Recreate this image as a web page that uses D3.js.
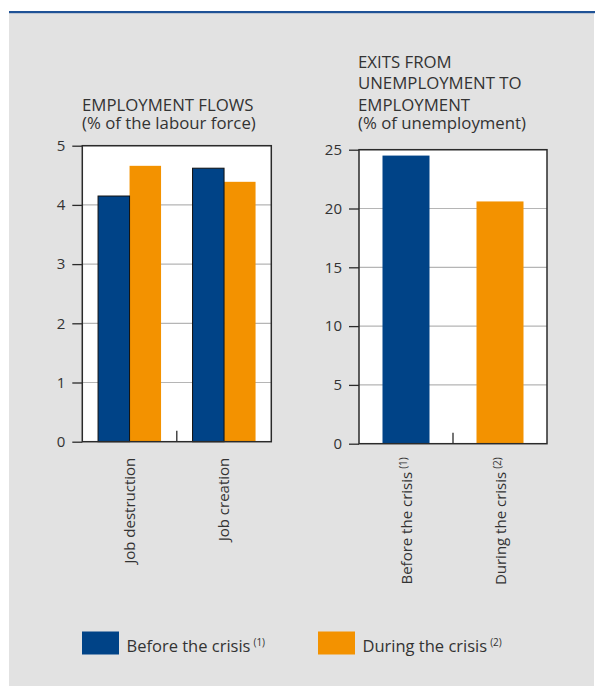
<!DOCTYPE html>
<html>
<head>
<meta charset="utf-8">
<script src="https://cdn.jsdelivr.net/npm/d3@7"></script>
<style>
  html, body { margin: 0; padding: 0; background: #ffffff; }
  svg { display: block; font-family: "Open Sans", "Noto Sans", sans-serif; }
</style>
</head>
<body>
<svg id="chart" width="595" height="686"></svg>
<script>
// Employment flows (% of the labour force)
const flowCategories = ["Job destruction", "Job creation"];
const flowBefore = [4.15, 4.62];
const flowDuring = [4.66, 4.39];
const flowTicks = [0, 1, 2, 3, 4, 5];
const flowTitle = ["EMPLOYMENT FLOWS"];
const flowSubtitle = "(% of the labour force)";

// Exits from unemployment to employment (% of unemployment)
const exitCategories = ["Before the crisis", "During the crisis"];
const exitNotes = ["(1)", "(2)"];
const exitValues = [24.5, 20.6];
const exitTicks = [0, 5, 10, 15, 20, 25];
const exitTitle = ["EXITS FROM", "UNEMPLOYMENT TO", "EMPLOYMENT"];
const exitSubtitle = "(% of unemployment)";

// Legend
const seriesNames = ["Before the crisis", "During the crisis"];
const seriesNotes = ["(1)", "(2)"];

const BLUE = "#004387";
const ORANGE = "#f39200";
const TEXT = "#333333";
const GRID = "#b5b5b5";
const FRAME = "#2b2b2b";

const svg = d3.select("#chart");

// Background panel with the blue rule along the top
svg.append("rect").attr("x", 9).attr("y", 13).attr("width", 585).attr("height", 673).attr("fill", "#e2e2e2");
svg.append("rect").attr("x", 9).attr("y", 11).attr("width", 586).attr("height", 2.2).attr("fill", "#1f5296");

function drawTitle(x, lines, subtitle, lastBaseline) {
  const g = svg.append("g").attr("fill", TEXT).style("font-size", "16.8px");
  const n = lines.length;
  lines.forEach((t, i) => {
    g.append("text").attr("x", x).attr("y", lastBaseline - 18 - (n - 1 - i) * 21.5).text(t);
  });
  g.append("text").attr("x", x).attr("y", lastBaseline).text(subtitle);
}

function drawFrame(g, x, y, yTicks) {
  const [x0, x1] = x.range();
  const [y0, y1] = y.range();
  // gridlines
  g.append("g").selectAll("line").data(yTicks.filter(d => d > 0)).join("line")
    .attr("x1", x0).attr("x2", x1)
    .attr("y1", d => y(d)).attr("y2", d => y(d))
    .attr("stroke", GRID).attr("stroke-width", 1.2);
}

function drawAxes(g, x, y, yTicks, midX) {
  const [x0, x1] = x.range();
  const [y0, y1] = y.range();
  // centre divider tick at the category boundary
  g.append("line").attr("x1", midX).attr("x2", midX).attr("y1", y0).attr("y2", y0 - 11)
    .attr("stroke", FRAME).attr("stroke-width", 1.3);
  // frame
  g.append("rect").attr("x", x0).attr("y", y1).attr("width", x1 - x0).attr("height", y0 - y1)
    .attr("fill", "none").attr("stroke", FRAME).attr("stroke-width", 1.5);
  // y axis ticks and labels
  const axis = d3.axisLeft(y).tickValues(yTicks).tickSize(10).tickPadding(7).tickFormat(d3.format("d"));
  const ag = g.append("g").attr("transform", `translate(${x0},0)`).call(axis);
  ag.select(".domain").remove();
  ag.selectAll(".tick line").attr("stroke", FRAME).attr("stroke-width", 1.3);
  ag.selectAll(".tick text").attr("fill", TEXT).style("font-size", "15px")
    .style("font-family", "\"Open Sans\", sans-serif");
}

// ---------- Left chart: employment flows ----------
{
  const g = svg.append("g");
  const x = d3.scaleBand().domain(flowCategories).range([82.3, 271.3]).paddingInner(1 / 3).paddingOuter(1 / 6);
  const y = d3.scaleLinear().domain([0, 5]).range([441.7, 145.7]);
  const xs = d3.scaleBand().domain(["before", "during"]).range([0, x.bandwidth()]);

  g.append("rect").attr("x", 82.3).attr("y", 145.7).attr("width", 189).attr("height", 296).attr("fill", "#ffffff");
  drawFrame(g, x, y, flowTicks);

  const rows = flowCategories.map((c, i) => ({ c, before: flowBefore[i], during: flowDuring[i] }));
  g.append("g").selectAll("rect").data(rows).join("rect")
    .attr("x", d => x(d.c) + xs("during")).attr("width", xs.bandwidth())
    .attr("y", d => y(d.during)).attr("height", d => y(0) - y(d.during))
    .attr("fill", ORANGE);
  g.append("g").selectAll("rect").data(rows).join("rect")
    .attr("x", d => x(d.c) + xs("before")).attr("width", xs.bandwidth())
    .attr("y", d => y(d.before)).attr("height", d => y(0) - y(d.before))
    .attr("fill", BLUE).attr("stroke", "#111").attr("stroke-width", 1);

  drawAxes(g, x, y, flowTicks, x(flowCategories[1]) - x.step() * x.paddingInner() / 2);

  g.append("g").selectAll("text").data(flowCategories).join("text")
    .attr("transform", d => `translate(${x(d) + x.bandwidth() / 2},${y(0) + 16}) rotate(-90)`)
    .attr("dy", "0.36em").attr("text-anchor", "end").attr("fill", TEXT).style("font-size", "15px")
    .text(d => d);

  drawTitle(82, flowTitle, flowSubtitle, 128.5);
}

// ---------- Right chart: exits from unemployment ----------
{
  const g = svg.append("g");
  const x = d3.scaleBand().domain(exitCategories).range([359, 547]).paddingInner(0.5).paddingOuter(0.25);
  const y = d3.scaleLinear().domain([0, 25]).range([443.7, 149.7]);

  g.append("rect").attr("x", 359).attr("y", 149.7).attr("width", 188).attr("height", 294).attr("fill", "#ffffff");
  drawFrame(g, x, y, exitTicks);

  g.append("g").selectAll("rect").data(exitCategories).join("rect")
    .attr("x", d => x(d)).attr("width", x.bandwidth())
    .attr("y", (d, i) => y(exitValues[i])).attr("height", (d, i) => y(0) - y(exitValues[i]))
    .attr("fill", (d, i) => i === 0 ? BLUE : ORANGE);

  drawAxes(g, x, y, exitTicks, x(exitCategories[1]) - x.step() * x.paddingInner() / 2);

  const lbl = g.append("g").selectAll("text").data(exitCategories).join("text")
    .attr("transform", d => `translate(${x(d) + x.bandwidth() / 2 + 1},${y(0) + 13.5}) rotate(-90)`)
    .attr("dy", "0.36em").attr("text-anchor", "end").attr("fill", TEXT).style("font-size", "15px");
  lbl.append("tspan").text(d => d);
  lbl.append("tspan").attr("dx", 3).attr("dy", "-0.55em").style("font-size", "10px").text((d, i) => exitNotes[i]);

  drawTitle(358, exitTitle, exitSubtitle, 128.5);
}

// ---------- Legend ----------
{
  const g = svg.append("g");
  const items = seriesNames.map((name, i) => ({ name, note: seriesNotes[i], color: i === 0 ? BLUE : ORANGE }));
  const lx = d3.scalePoint().domain(seriesNames).range([82, 318]);
  const item = g.selectAll("g").data(items).join("g")
    .attr("transform", d => `translate(${lx(d.name)},631.5)`);
  item.append("rect").attr("width", 37).attr("height", 23).attr("fill", d => d.color);
  const t = item.append("text").attr("x", 44.5).attr("y", 20).attr("fill", TEXT).style("font-size", "16.5px");
  t.append("tspan").text(d => d.name);
  t.append("tspan").attr("dx", 3).attr("dy", "-0.6em").style("font-size", "10px").text(d => d.note);
}
</script>
</body>
</html>
